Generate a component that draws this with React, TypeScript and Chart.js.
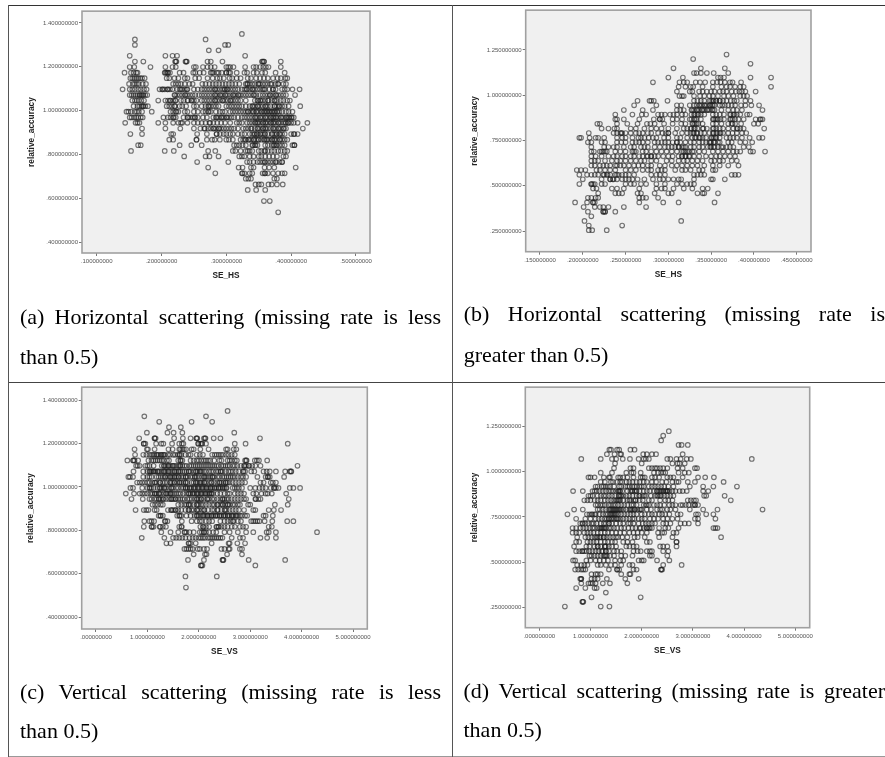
import React, { useEffect, useRef } from "react";
import { Chart, registerables } from "chart.js";

Chart.register(...registerables);

const levelsLess = [1.35,1.325,1.3,1.275,1.25,1.224,1.199,1.173,1.148,1.122,1.097,1.071,1.046,1.02,.995,.969,.944,.918,.893,.867,.842,.816,.791,.765,.74,.714,.689,.663,.638,.587,.536];
const levelsGreater = [1.224,1.199,1.173,1.148,1.122,1.097,1.071,1.046,1.02,.995,.969,.944,.918,.893,.867,.842,.816,.791,.765,.74,.714,.689,.663,.638,.612,.587,.561,.536,.51,.485,.459,.434,.408,.383,.357,.332,.306,.281,.255];

const rowsA = [
[.324],
[.159,.268],
[.159,.298,.303],
[.273,.288],
[.151,.206,.217,.224,.329],
[.159,.172,.221,.223,.237,.239,.271,.276,.294,.355,.358,.384],
[.151,.158,.183,.206,.217,.222,.25,.253,.264,.271,.276,.282,.3,.303,.306,.311,.329,.342,.346,.352,.357,.361,.365,.384],
[.143,.153,.157,.161,.163,.205,.208,.21,.213,.228,.234,.249,.252,.259,.265,.276,.28,.285,.288,.293,.3,.304,.306,.316,.328,.332,.342,.347,.355,.36,.376,.39],
[.152,.155,.158,.161,.164,.167,.17,.174,.208,.212,.22,.226,.236,.24,.252,.258,.271,.279,.286,.29,.296,.305,.309,.316,.322,.333,.338,.346,.352,.358,.364,.372,.379,.384,.391,.394],
[.15,.156,.159,.162,.165,.171,.176,.218,.222,.226,.23,.236,.243,.248,.263,.268,.274,.279,.284,.289,.294,.299,.304,.309,.314,.32,.33,.333,.336,.34,.344,.349,.352,.356,.36,.364,.368,.376,.38,.388,.392],
[.14,.151,.155,.159,.164,.168,.173,.177,.197,.201,.205,.209,.213,.217,.224,.228,.232,.236,.24,.25,.256,.262,.266,.27,.274,.278,.282,.286,.29,.294,.298,.302,.306,.31,.314,.318,.324,.328,.332,.336,.34,.344,.348,.352,.356,.36,.366,.372,.376,.386,.39,.394,.402,.413],
[.151,.154,.157,.16,.163,.166,.169,.172,.175,.178,.22,.224,.228,.232,.236,.24,.244,.248,.252,.258,.262,.266,.27,.274,.278,.282,.286,.29,.294,.298,.302,.306,.31,.314,.318,.322,.326,.33,.334,.338,.342,.346,.352,.356,.36,.364,.368,.372,.376,.38,.384,.388,.392,.406],
[.155,.159,.162,.165,.169,.173,.195,.206,.21,.214,.218,.222,.23,.234,.24,.246,.25,.254,.262,.266,.27,.274,.278,.282,.286,.29,.294,.298,.302,.306,.31,.314,.318,.322,.33,.344,.348,.352,.356,.36,.364,.37,.374,.378,.384,.388,.394,.398],
[.157,.163,.166,.169,.172,.175,.179,.208,.212,.216,.22,.228,.232,.238,.25,.254,.262,.268,.272,.276,.28,.284,.288,.3,.304,.308,.312,.316,.32,.324,.33,.336,.34,.344,.348,.352,.356,.36,.364,.368,.374,.378,.382,.386,.39,.396,.414],
[.146,.149,.153,.159,.162,.165,.17,.185,.214,.218,.222,.226,.236,.24,.25,.256,.264,.268,.272,.276,.284,.29,.294,.298,.306,.31,.314,.318,.322,.326,.33,.334,.338,.342,.346,.35,.354,.358,.362,.366,.37,.374,.378,.382,.386,.392,.396,.402],
[.151,.154,.158,.161,.164,.168,.171,.203,.21,.214,.218,.222,.234,.24,.244,.248,.252,.256,.264,.27,.28,.284,.288,.292,.296,.3,.304,.308,.312,.318,.324,.328,.332,.336,.34,.344,.348,.352,.356,.36,.364,.368,.372,.376,.38,.384,.388,.392,.396,.4,.404],
[.144,.16,.163,.166,.195,.206,.218,.226,.232,.24,.25,.256,.262,.268,.274,.28,.286,.292,.298,.306,.316,.32,.324,.332,.336,.34,.344,.348,.352,.356,.36,.364,.368,.372,.376,.38,.384,.388,.392,.396,.4,.404,.41,.425],
[.17,.206,.229,.25,.26,.266,.272,.276,.28,.284,.288,.292,.296,.3,.304,.308,.312,.318,.326,.33,.334,.338,.344,.348,.352,.356,.36,.364,.368,.372,.376,.38,.384,.388,.392,.418],
[.152,.17,.215,.218,.27,.285,.29,.296,.3,.306,.31,.318,.324,.328,.336,.34,.344,.348,.352,.356,.36,.364,.37,.374,.378,.382,.386,.39,.4,.404,.41],
[.212,.218,.254,.27,.278,.282,.29,.3,.304,.31,.322,.326,.33,.334,.338,.342,.346,.35,.354,.358,.362,.366,.37,.374,.378,.382,.386,.39,.394],
[.164,.168,.228,.246,.262,.312,.316,.32,.325,.33,.34,.344,.348,.36,.364,.37,.374,.378,.382,.386,.39,.402,.405],
[.153,.205,.219,.272,.283,.31,.314,.322,.33,.336,.34,.35,.354,.36,.364,.37,.374,.38,.384,.39,.394],
[.235,.268,.274,.288,.32,.324,.328,.336,.342,.35,.354,.36,.366,.372,.378,.388,.392],
[.255,.303,.332,.336,.342,.348,.352,.356,.36,.364,.368,.372,.376,.382,.386],
[.272,.319,.325,.338,.342,.359,.366,.374,.407],
[.283,.324,.328,.336,.34,.356,.36,.364,.372,.38,.386,.39],
[.33,.334,.338,.374,.378],
[.345,.35,.354,.365,.37,.378,.387],
[.333,.346,.36],
[.358,.367],
[.38],
];

const rowsB = [
[.368],
[.329],
[.396],
[.306,.338,.366],
[.33,.333,.338,.345,.353,.37],
[.3,.317,.358,.361,.365,.396,.42],
[.282,.313,.318,.322,.332,.337,.343,.352,.357,.361,.366,.372,.375,.385],
[.312,.32,.326,.329,.34,.352,.362,.368,.372,.378,.384,.388,.42],
[.31,.325,.328,.336,.34,.345,.35,.354,.36,.364,.368,.374,.379,.383,.386,.39,.402],
[.313,.316,.318,.33,.337,.342,.348,.352,.358,.365,.37,.376,.384,.388,.392],
[.264,.278,.28,.283,.299,.33,.334,.338,.342,.348,.35,.353,.356,.36,.364,.368,.373,.377,.38,.39,.396],
[.26,.286,.31,.315,.325,.33,.333,.336,.339,.342,.345,.348,.351,.354,.36,.363,.366,.37,.374,.378,.385,.39,.397,.406],
[.248,.27,.282,.31,.314,.318,.327,.33,.333,.336,.339,.342,.345,.348,.351,.354,.362,.37,.376,.38,.386,.41],
[.258,.269,.274,.288,.292,.296,.302,.306,.31,.316,.32,.33,.334,.338,.342,.352,.356,.36,.365,.372,.376,.38,.384,.392,.395],
[.238,.24,.248,.266,.283,.29,.293,.305,.31,.316,.325,.33,.333,.338,.352,.355,.358,.361,.365,.372,.375,.378,.382,.388,.402,.407,.41],
[.217,.22,.24,.252,.264,.275,.279,.284,.295,.305,.315,.32,.328,.331,.335,.34,.352,.356,.362,.37,.374,.378,.385,.4,.405],
[.222,.23,.237,.24,.256,.262,.272,.28,.286,.292,.3,.31,.318,.322,.326,.33,.334,.34,.345,.352,.356,.36,.364,.37,.376,.38,.384,.388,.412],
[.207,.236,.24,.244,.25,.256,.262,.266,.27,.276,.28,.288,.293,.297,.3,.308,.316,.322,.326,.33,.334,.338,.342,.348,.352,.356,.36,.364,.37,.375,.38,.386,.391],
[.196,.198,.208,.215,.218,.225,.24,.246,.25,.258,.265,.268,.272,.277,.282,.286,.295,.3,.31,.314,.322,.328,.332,.336,.34,.344,.35,.353,.356,.36,.368,.372,.376,.38,.386,.395,.406,.41],
[.206,.21,.222,.226,.24,.245,.25,.258,.262,.266,.27,.276,.284,.288,.292,.296,.3,.305,.31,.314,.32,.326,.33,.336,.34,.344,.348,.35,.354,.36,.37,.374,.384,.39,.398],
[.21,.225,.23,.236,.24,.248,.256,.26,.268,.272,.276,.284,.29,.296,.3,.304,.308,.312,.316,.32,.326,.33,.336,.34,.346,.35,.354,.358,.364,.368,.372,.376,.388,.394],
[.21,.213,.22,.224,.228,.238,.244,.25,.258,.262,.27,.274,.28,.286,.292,.298,.304,.31,.316,.32,.324,.328,.336,.342,.352,.358,.364,.37,.376,.38,.384,.396,.399,.413],
[.21,.215,.222,.23,.236,.24,.246,.25,.256,.26,.266,.27,.275,.28,.284,.288,.294,.3,.305,.312,.316,.32,.324,.33,.336,.344,.35,.356,.36,.366,.372,.378],
[.21,.214,.218,.226,.234,.24,.244,.25,.256,.262,.268,.272,.28,.286,.298,.304,.312,.318,.322,.328,.334,.34,.35,.354,.36,.364,.374,.38],
[.21,.214,.22,.224,.232,.238,.244,.248,.254,.26,.265,.27,.276,.28,.29,.296,.304,.31,.316,.322,.328,.334,.342,.36,.37,.382],
[.193,.198,.203,.216,.22,.226,.232,.238,.25,.256,.262,.27,.276,.28,.288,.292,.296,.308,.316,.32,.326,.336,.34,.352,.355],
[.196,.205,.21,.214,.218,.224,.228,.232,.238,.242,.246,.25,.254,.26,.28,.286,.29,.296,.33,.334,.338,.342,.374,.378,.382],
[.2,.222,.232,.235,.24,.246,.254,.258,.264,.272,.282,.29,.294,.3,.306,.312,.315,.33,.35,.366],
[.196,.21,.214,.222,.226,.25,.256,.26,.268,.274,.286,.296,.31,.316,.322,.326,.33],
[.212,.216,.234,.24,.248,.266,.286,.292,.296,.306,.318,.328,.34,.346],
[.218,.238,.242,.246,.264,.268,.284,.3,.304,.334,.34,.342,.358],
[.206,.21,.215,.218,.266,.27,.274,.288],
[.191,.205,.212,.214,.266,.294,.312,.354],
[.201,.214,.22,.224,.23,.248,.274],
[.206,.224,.226,.238],
[.21],
[.202,.315],
[.207,.246],
[.207,.211,.228],
];

const rowsC = [
[2.56],
[.94,2.14],
[1.23,1.86,2.26],
[1.42,1.65],
[.99,1.39,1.51,1.68,2.69],
[.84,1.14,1.16,1.52,1.69,1.84,1.95,1.97,2.1,2.13,2.29,2.42,3.19],
[.93,.96,1.17,1.27,1.31,1.48,1.62,1.67,1.7,1.99,2.03,2.06,2.14,2.7,2.91,3.73],
[.75,.99,1.01,1.14,1.41,1.49,1.62,1.64,1.68,1.71,1.75,1.86,1.9,2.03,2.19,2.53,2.56,2.68,2.73],
[.76,.92,.98,1.04,1.08,1.11,1.14,1.18,1.22,1.26,1.3,1.34,1.4,1.44,1.5,1.54,1.59,1.62,1.66,1.74,1.8,1.84,1.96,2.02,2.08,2.26,2.31,2.35,2.39,2.43,2.47,2.53,2.58,2.64,2.7],
[.61,.72,.75,.82,1.02,1.08,1.12,1.16,1.2,1.24,1.28,1.32,1.38,1.42,1.6,1.64,1.68,1.84,1.9,1.96,2,2.05,2.1,2.14,2.18,2.22,2.3,2.4,2.44,2.56,2.6,2.64,2.7,2.74,2.9,2.93,3.09,3.13,3.17,3.33],
[.78,.81,.85,.96,1,1.04,1.12,1.28,1.32,1.36,1.4,1.44,1.48,1.52,1.56,1.6,1.64,1.68,1.72,1.76,1.82,1.86,1.9,1.94,1.98,2.02,2.06,2.1,2.14,2.18,2.22,2.26,2.3,2.34,2.38,2.44,2.48,2.52,2.56,2.6,2.66,2.7,2.75,2.82,2.88,2.92,2.98,3.04,3.1,3.2,3.92],
[.73,.92,1,1.04,1.07,1.1,1.13,1.16,1.2,1.24,1.28,1.32,1.36,1.4,1.44,1.48,1.52,1.56,1.6,1.64,1.68,1.72,1.76,1.8,1.84,1.9,1.94,1.98,2.02,2.06,2.1,2.14,2.2,2.24,2.28,2.34,2.38,2.42,2.46,2.52,2.58,2.62,2.66,2.72,2.78,2.86,2.9,3.02,3.08,3.26,3.32,3.38,3.5,3.68,3.77,3.8],
[.63,.66,.72,.92,1,1.04,1.08,1.18,1.22,1.26,1.3,1.34,1.4,1.44,1.48,1.52,1.56,1.6,1.66,1.7,1.74,1.78,1.84,1.88,1.92,1.96,2,2.06,2.1,2.14,2.18,2.22,2.26,2.3,2.36,2.4,2.46,2.5,2.54,2.58,2.62,2.66,2.7,2.76,2.82,2.86,2.92,3.14,3.3,3.34,3.38,3.66],
[.8,.85,.9,.95,1,1.04,1.1,1.14,1.18,1.24,1.3,1.34,1.38,1.44,1.48,1.52,1.58,1.62,1.66,1.7,1.74,1.78,1.86,1.9,1.94,1.98,2.02,2.06,2.1,2.14,2.2,2.24,2.3,2.36,2.4,2.44,2.48,2.52,2.56,2.6,2.66,2.72,2.78,2.84,2.9,3.2,3.26,3.4,3.44,3.5],
[.67,.72,.9,1,1.04,1.08,1.12,1.2,1.24,1.28,1.32,1.36,1.42,1.46,1.5,1.56,1.6,1.66,1.7,1.74,1.78,1.82,1.86,1.9,1.94,1.98,2.02,2.06,2.1,2.14,2.18,2.22,2.26,2.3,2.34,2.38,2.42,2.46,2.5,2.54,2.66,2.7,2.74,2.78,2.84,3,3.1,3.18,3.24,3.3,3.4,3.46,3.5,3.55,3.77,3.84,3.97],
[.58,.74,.85,.9,.95,1,1.06,1.1,1.14,1.18,1.22,1.26,1.32,1.36,1.4,1.44,1.48,1.52,1.56,1.6,1.64,1.7,1.76,1.8,1.84,1.88,1.92,1.96,2,2.04,2.08,2.12,2.16,2.2,2.24,2.28,2.36,2.42,2.5,2.56,2.6,2.7,2.76,2.82,2.88,3.06,3.12,3.22,3.34,3.42,3.7],
[.69,.91,1.04,1.08,1.14,1.18,1.22,1.26,1.3,1.36,1.42,1.46,1.5,1.54,1.6,1.64,1.68,1.72,1.78,1.82,1.86,1.92,1.96,2,2.04,2.1,2.16,2.2,2.26,2.3,2.36,2.42,2.46,2.5,2.54,2.58,2.64,2.7,2.76,2.82,2.88,2.92,3.1,3.16,3.2,3.75],
[1.1,1.15,1.2,1.26,1.3,1.6,1.66,1.72,1.76,1.8,1.84,1.9,1.96,2,2.04,2.08,2.14,2.2,2.26,2.3,2.36,2.42,2.46,2.52,2.56,2.6,2.66,2.7,2.76,2.8,2.96,3,3.48,3.73],
[.77,.93,.98,1.02,1.14,1.18,1.4,1.46,1.5,1.54,1.6,1.66,1.74,1.8,1.86,1.9,1.96,2,2.06,2.1,2.18,2.26,2.3,2.36,2.44,2.5,2.54,2.6,2.66,2.72,2.78,2.88,3.06,3.1,3.36,3.46,3.6],
[1.22,1.26,1.3,1.58,1.62,1.66,1.76,1.84,1.92,1.96,2,2.04,2.08,2.12,2.16,2.2,2.24,2.28,2.32,2.36,2.4,2.44,2.48,2.52,2.56,2.6,2.64,2.68,2.72,2.76,2.8,2.84,2.9,2.94,3.26,3.3,3.44],
[.94,1.04,1.08,1.13,1.34,1.39,1.67,1.86,1.96,2.02,2.06,2.14,2.2,2.26,2.42,2.5,2.56,2.62,2.66,2.76,2.82,3.02,3.06,3.1,3.14,3.18,3.28,3.43,3.72,3.84],
[.93,1.08,1.12,1.24,1.3,1.36,1.62,1.66,2.03,2.08,2.14,2.2,2.34,2.38,2.44,2.5,2.56,2.64,2.7,2.8,2.86,2.92,3.36,3.42],
[1.27,1.45,1.6,1.72,1.76,1.82,1.9,2.02,2.06,2.1,2.14,2.2,2.28,2.34,2.5,2.6,2.76,2.92,3.06,3.32,3.36,3.5,4.3],
[.89,1.33,1.5,1.56,1.62,1.68,1.74,1.82,1.88,1.94,2,2.04,2.08,2.12,2.18,2.22,2.26,2.3,2.34,2.38,2.42,2.46,2.64,2.8,2.86,3.2,3.33,3.5],
[1.37,1.45,1.8,1.84,1.94,2.25,2.58,2.6,2.75,2.9],
[1.72,1.76,1.8,1.84,1.88,1.98,2.02,2.1,2.16,2.44,2.5,2.58,2.6,2.8,2.84],
[1.9,2.12,2.15,2.55,2.84],
[1.79,2.1,2.46,2.48,2.97,3.68],
[2.04,2.07,3.1],
[1.74,2.35],
[1.75],
];

const rowsD = [
[2.53],
[2.42],
[2.38],
[2.72,2.78,2.9],
[1.37,1.4,1.52,1.56,1.78,1.86],
[1.32,1.47,1.58,1.6,2.03,2.1,2.2,2.28,2.8],
[.82,1.2,1.42,1.5,1.63,1.77,1.94,2.04,2.08,2.14,2.5,2.56,2.68,2.76,2.88,2.96,4.15],
[1.48,2,2.6,2.7,2.74,2.84],
[1.46,1.78,1.84,2.14,2.2,2.26,2.3,2.36,2.42,2.5,2.7,2.8,3.04,3.08],
[1.2,1.42,1.7,1.8,1.84,1.98,2.24,2.32,2.38,2.42,2.46,2.72,2.84,2.92],
[.96,1,1.08,1.26,1.36,1.38,1.54,1.58,1.64,1.72,1.84,1.98,2.02,2.06,2.2,2.26,2.34,2.5,2.56,2.62,2.8,3.1,3.24,3.41],
[1.2,1.28,1.4,1.44,1.52,1.58,1.62,1.7,1.76,1.82,1.9,1.96,2.04,2.1,2.2,2.28,2.4,2.48,2.6,2.68,2.72,2.9,3.04,3.6],
[1.1,1.14,1.22,1.26,1.3,1.34,1.38,1.46,1.56,1.6,1.68,1.72,1.76,1.82,1.86,1.9,1.96,2,2.04,2.14,2.2,2.26,2.32,2.38,2.44,2.52,2.62,2.94,3.2,3.4,3.86],
[.66,.85,1.04,1.08,1.12,1.18,1.24,1.3,1.36,1.4,1.44,1.5,1.54,1.58,1.62,1.72,1.78,1.82,1.86,1.9,1.96,2.04,2.1,2.16,2.24,2.3,2.34,2.38,2.42,2.46,2.5,2.54,2.6,2.66,2.74,2.8,2.88,3.2,3.3],
[.96,1,1.04,1.14,1.2,1.26,1.3,1.36,1.42,1.48,1.56,1.6,1.64,1.7,1.76,1.82,1.9,1.96,2.02,2.08,2.18,2.26,2.32,2.36,2.44,2.5,2.56,2.62,3.22,3.26,3.62],
[.88,.94,1,1.08,1.14,1.2,1.28,1.34,1.4,1.46,1.5,1.54,1.58,1.64,1.72,1.76,1.84,1.88,1.96,2.02,2.14,2.2,2.36,2.46,2.52,2.6,2.9,2.96,3.02,3.06,3.74],
[1.1,1.14,1.2,1.24,1.28,1.36,1.4,1.44,1.48,1.54,1.6,1.66,1.72,1.8,1.84,1.9,2.04,2.08,2.14,2.24,2.3,2.36,2.44,2.54,2.6,2.66,2.76,2.8,2.86,2.92,3,3.04,3.1],
[.68,.85,1.14,1.18,1.24,1.3,1.36,1.4,1.44,1.48,1.52,1.56,1.6,1.64,1.7,1.76,1.8,1.86,1.92,1.96,2,2.1,2.18,2.3,2.36,2.4,2.5,2.56,2.66,2.94,3.2,3.48,4.36],
[.55,.93,.98,1.04,1.08,1.18,1.24,1.3,1.34,1.38,1.42,1.46,1.5,1.54,1.6,1.66,1.72,1.78,1.84,1.9,2,2.06,2.14,2.2,2.26,2.34,2.4,2.46,2.54,2.7,2.76,3.06,3.1,3.26,3.4],
[.72,.9,1,1.1,1.16,1.22,1.28,1.32,1.36,1.42,1.46,1.52,1.58,1.64,1.7,1.76,1.82,1.86,1.94,2,2.06,2.16,2.24,2.32,2.42,2.5,2.6,2.7,3.04,3.1,3.44],
[.8,.84,.9,.96,1.02,1.06,1.12,1.2,1.26,1.3,1.36,1.42,1.5,1.58,1.64,1.74,1.78,1.84,1.94,2.02,2.08,2.14,2.2,2.26,2.42,2.48,2.56,2.76,2.84,2.92,3.1],
[.65,.72,.8,.86,.92,.98,1.04,1.08,1.14,1.18,1.22,1.26,1.3,1.36,1.4,1.46,1.52,1.6,1.66,1.74,1.82,1.88,1.96,2.04,2.1,2.16,2.2,2.34,2.46,2.52,2.72,3.4,3.44,3.48],
[.65,.72,.78,.88,.94,1,1.06,1.14,1.2,1.28,1.34,1.42,1.5,1.58,1.66,1.76,1.84,1.92,2,2.1,2.32,2.4,2.44,2.62,2.68],
[.74,.9,.96,1.02,1.08,1.14,1.2,1.26,1.32,1.38,1.44,1.5,1.54,1.62,1.72,1.86,1.92,2.06,2.34,2.6,3.55],
[.72,.78,.94,1,1.06,1.12,1.2,1.28,1.34,1.42,1.48,1.64,1.72,1.82,2.1,2.16,2.68],
[.68,.92,.98,1.08,1.14,1.2,1.28,1.36,1.42,1.5,1.7,1.76,1.84,1.9,2.36,2.42,2.5,2.68],
[.72,.78,.84,.92,.98,1.04,1.1,1.16,1.22,1.3,1.36,1.46,1.52,1.6,1.84,1.92,1.98,2.1,2.16,2.2,2.42,2.52],
[.98,1.02,1.08,1.14,1.2,1.28,1.32,1.38,1.46,1.6,1.68,1.82,2.16,2.2,2.5],
[.66,.7,.92,1,1.1,1.18,1.26,1.34,1.48,1.58,1.64,1.94,2,2.04,2.3,2.54],
[.74,.82,.88,.94,1.14,1.2,1.3,1.4,1.48,1.6,1.76,1.82,2.42,2.78],
[.7,.76,.82,.86,.9,1.36,1.52,1.56,1.84,1.9,2.38,2.4],
[1.02,1.1,1.14,1.2,1.6,1.76,1.78],
[.8,.82,1.02,1.08,1.14,1.32,1.68,1.94],
[.82,.96,1,1.04,1.1,1.24,1.38,1.72],
[.72,.9,1.08,1.12],
[1.3],
[1.02,1.98],
[.84,.86],
[.5,1.2,1.37],
];

type Extra = [number, number[]];

const darkA: Extra[] = [
[1.224,[.222,.238,.356,.358]],[1.173,[.206,.21,.278,.3]],[1.122,[.332,.35,.37,.38]],
[1.097,[.202,.21,.23,.239,.283,.297,.301,.331,.341,.358,.372]],
[1.071,[.167,.171,.221,.237,.283,.291,.299,.311,.319,.343,.367,.377]],
[1.046,[.213,.221,.241,.247,.283,.295,.307,.349,.353,.365,.375]],
[1.02,[.171,.221,.273,.341,.349,.361,.375,.381]],
[.995,[.223,.273,.333,.341,.347,.355,.359,.363,.367,.371,.375,.379]],
[.969,[.219,.241,.251,.285,.293,.301,.345,.353,.361,.369,.373,.377,.385,.393,.397,.401]],
[.944,[.23,.275,.345,.349,.357,.361,.369,.373,.381,.391,.395]],
[.918,[.267,.281,.289,.339,.349,.357,.361,.373,.381,.389]],
[.893,[.255,.285,.343,.347,.353,.359,.371,.377,.383,.405]],
[.867,[.254,.329,.335,.343,.349,.359,.363,.371,.375,.383]],
[.842,[.341,.345,.373,.377,.405]],[.816,[.333,.359]],[.765,[.359,.377,.386]],[.714,[.325,.359]],
];

const darkB: Extra[] = [
[.969,[.352,.356,.36]],[.944,[.337,.343,.349,.352]],[.918,[.328,.334,.34,.346,.352]],
[.893,[.327,.331,.335,.373,.377,.238]],[.867,[.327,.331,.353,.357,.373,.408,.29]],
[.842,[.329,.333,.375]],[.816,[.327,.331,.341,.353,.381]],[.791,[.329,.333,.353,.357,.361,.246,.3,.245]],
[.765,[.331,.337,.351,.355]],[.74,[.349,.353,.31,.358]],[.714,[.312,.318,.349,.353,.362]],
[.689,[.222,.226,.318,.322,.33,.26]],[.663,[.276,.28,.316,.32,.325]],[.612,[.228,.24,.352]],
[.561,[.225,.229,.24]],[.536,[.232,.236,.25,.352]],[.51,[.21,.212]],[.408,[.212]],[.357,[.224,.226]],
];

const darkC: Extra[] = [
[1.224,[1.14,1.96,2.12]],[1.199,[.93,1.99,2.06]],[1.148,[1.19,1.27,1.32,1.63]],[1.122,[.73,1.65,2.92]],
[1.097,[1.33,1.41,1.5,1.63,2.89,2.97]],
[1.071,[1.05,1.12,1.21,1.33,1.41,1.53,1.61,1.81,1.95,2.03,2.43,2.87,3.79]],
[1.046,[1.35,1.45,1.53,1.61,1.75,1.93,2.11,2.27,3.35]],
[1.02,[1.15,1.25,1.45,1.53,1.63,1.75,1.95,2.03,2.11,2.25,2.41,2.53]],
[.995,[1.05,1.25,1.33,1.47,1.75,1.83,1.91,1.99,2.07,2.15,2.23,2.31,2.39,2.47,2.53,3.47]],
[.969,[1.15,1.23,1.37,1.45,1.81,1.89,1.97,2.05,2.13,2.21,2.25,3.3]],
[.944,[1.23,1.31,1.47,1.55,1.97,2.05,2.17,2.47,3.11]],
[.918,[1.81,1.97,2.37,2.47,2.57]],[.893,[1.47,1.55,1.81,1.97,2.11,2.37,2.51]],
[.867,[1.25,1.63,1.97,2.09,2.17,2.25,2.33,2.41,2.49,2.57,2.65,2.73]],
[.842,[1.35,2.68]],[.816,[1.09,1.25,1.67,2.09,2.35,2.39]],[.791,[1.73,2.1]],[.74,[1.81]],[.663,[2.47]],[.638,[2.05]],
];

const darkD: Extra[] = [
[.893,[1.55,1.57,1.81,1.89,2.3,2.36,2.42,2.48,2.5]],[.867,[1.55,1.59,1.95,2.05,2.3,2.38]],
[.842,[1.52,1.56,1.78,1.88]],[.816,[2.1,3.04]],
[.791,[1.38,1.42,1.46,1.5,1.54,1.58,1.78,1.82,1.86,1.98]],[.765,[1.02,1.1,1.4,1.44,1.48]],
[.74,[1.36,1.4,1.5,1.54]],[.714,[.85,1.36]],[.689,[1.2,1.24,1.28,1.98,2.1,2.14]],
[.638,[1.12,1.18,1.26]],[.612,[2.68]],[.587,[1.14,1.28,1.3]],[.561,[.84,.88,1.24,1.3]],
[.536,[1.26,1.3]],[.459,[1.52,2.38]],[.408,[.82]],[.281,[.85]],
];

const xTicksHs1 = [.1,.2,.3,.4,.5];
const xLabelsHs1 = [".100000000",".200000000",".300000000",".400000000",".500000000"];
const xTicksHs2 = [.15,.2,.25,.3,.35,.4,.45];
const xLabelsHs2 = [".150000000",".200000000",".250000000",".300000000",".350000000",".400000000",".450000000"];
const xTicksVs = [0,1,2,3,4,5];
const xLabelsVs = [".000000000","1.000000000","2.000000000","3.000000000","4.000000000","5.000000000"];
const yTicksLess = [.4,.6,.8,1,1.2,1.4];
const yLabelsLess = [".400000000",".600000000",".800000000","1.000000000","1.200000000","1.400000000"];
const yTicksGreater = [.25,.5,.75,1,1.25];
const yLabelsGreater = [".250000000",".500000000",".750000000","1.000000000","1.250000000"];

type PanelCfg = {
  levels: number[]; rows: number[][]; dark: Extra[]; xTitle: string;
  xTicks: number[]; xLabels: string[]; yTicks: number[]; yLabels: string[];
  box: [number, number, number, number];
  xRange: [number, number]; yRange: [number, number];
};

const panels: PanelCfg[] = [
  { levels: levelsLess, rows: rowsA, dark: darkA, xTitle: "SE_HS", xTicks: xTicksHs1, xLabels: xLabelsHs1, yTicks: yTicksLess, yLabels: yLabelsLess,
    box: [82, 370, 9, 253], xRange: [.0774, .5216], yRange: [.35, 1.454] },
  { levels: levelsGreater, rows: rowsB, dark: darkB, xTitle: "SE_HS", xTicks: xTicksHs2, xLabels: xLabelsHs2, yTicks: yTicksGreater, yLabels: yLabelsGreater,
    box: [525.7, 811, 8.7, 251.7], xRange: [.1333, .4667], yRange: [.1366, 1.469] },
  { levels: levelsLess, rows: rowsC, dark: darkC, xTitle: "SE_VS", xTicks: xTicksVs, xLabels: xLabelsVs, yTicks: yTicksLess, yLabels: yLabelsLess,
    box: [81.7, 367.3, 385.7, 629], xRange: [-.278, 5.278], yRange: [.345, 1.4596] },
  { levels: levelsGreater, rows: rowsD, dark: darkD, xTitle: "SE_VS", xTicks: xTicksVs, xLabels: xLabelsVs, yTicks: yTicksGreater, yLabels: yLabelsGreater,
    box: [525.3, 809.7, 385.7, 627.7], xRange: [-.273, 5.281], yRange: [.138, 1.4676] },
];

const captions = [
  { left: 20, width: 421, b1: 324, b2: 364, l1: "(a) Horizontal scattering (missing rate is less", l2: "than 0.5)" },
  { left: 463.7, width: 421.3, b1: 321, b2: 362, l1: "(b) Horizontal scattering (missing rate is", l2: "greater than 0.5)" },
  { left: 20, width: 421, b1: 699, b2: 738, l1: "(c) Vertical scattering (missing rate is less", l2: "than 0.5)" },
  { left: 463.5, width: 421.5, b1: 698, b2: 737, l1: "(d) Vertical scattering (missing rate is greater", l2: "than 0.5)" },
];

const plotFrame = {
  id: "plotFrame",
  beforeDraw(c: any) {
    const { ctx, chartArea: a } = c;
    ctx.save();
    ctx.fillStyle = "#f0f0f0";
    ctx.fillRect(a.left, a.top, a.right - a.left, a.bottom - a.top);
    ctx.restore();
  },
  beforeDatasetsDraw(c: any) {
    const { ctx, chartArea: a } = c;
    ctx.save();
    ctx.strokeStyle = "#a0a0a0";
    ctx.lineWidth = 1.6;
    ctx.strokeRect(a.left, a.top, a.right - a.left, a.bottom - a.top);
    ctx.restore();
  },
};

const tickFont = { family: "'Liberation Sans', Arial, sans-serif", size: 6 };
const titleFont = { family: "'Liberation Sans', Arial, sans-serif", size: 8.3, weight: "bold" as const };

function Panel({ cfg }: { cfg: PanelCfg }) {
  const ref = useRef<HTMLCanvasElement>(null);
  const [L, R, T, B] = cfg.box;
  const cL = Math.floor(L) - 70;
  const cT = Math.floor(T) - 3;
  const W = Math.ceil(R) + 22 - cL;
  const H = Math.ceil(B) + 35 - cT;
  useEffect(() => {
    const data = [
      ...cfg.levels.flatMap((y, i) => cfg.rows[i].map((x) => ({ x, y }))),
      ...cfg.dark.flatMap(([y, xs]) => xs.map((x) => ({ x, y }))),
    ];
    const chart = new Chart(ref.current!, {
      type: "scatter",
      data: { datasets: [{ data, showLine: false, pointRadius: 2.3, pointBorderWidth: 1.15,
        pointBorderColor: "rgba(28,28,28,0.6)", pointBackgroundColor: "rgba(0,0,0,0)" }] },
      options: {
        animation: false, responsive: false,
        layout: { padding: { left: 0, top: T - cT, right: cL + W - R, bottom: 0 } },
        plugins: { legend: { display: false }, tooltip: { enabled: false } },
        scales: {
          x: {
            type: "linear", min: cfg.xRange[0], max: cfg.xRange[1],
            afterFit: (s: any) => { s.height = cT + H - B; },
            afterBuildTicks: (s: any) => { s.ticks = cfg.xTicks.map((value) => ({ value })); },
            ticks: { autoSkip: false, maxRotation: 0, padding: 2, color: "#555", font: tickFont,
              callback: (_v: any, i: number) => cfg.xLabels[i] },
            grid: { drawOnChartArea: false, drawTicks: true, tickLength: 3, color: "#777" },
            border: { display: false },
            title: { display: true, text: cfg.xTitle, color: "#222", font: titleFont, padding: { top: 0, bottom: 7 } },
          },
          y: {
            type: "linear", min: cfg.yRange[0], max: cfg.yRange[1],
            afterFit: (s: any) => { s.width = L - cL; },
            afterBuildTicks: (s: any) => { s.ticks = cfg.yTicks.map((value) => ({ value })); },
            ticks: { autoSkip: false, padding: 1, color: "#555", font: tickFont,
              callback: (_v: any, i: number) => cfg.yLabels[i] },
            grid: { drawOnChartArea: false, drawTicks: true, tickLength: 3, color: "#777" },
            border: { display: false },
            title: { display: true, text: "relative_accuracy", color: "#222", font: titleFont, padding: { top: 15, bottom: 0 } },
          },
        },
      },
      plugins: [plotFrame],
    } as any);
    return () => chart.destroy();
  }, []);
  return (
    <canvas ref={ref} width={W} height={H}
      style={{ position: "absolute", left: cL, top: cT, width: W, height: H, filter: "blur(0.6px)" }} />
  );
}

function line(key: string, left: number, top: number, width: number, height: number, color: string) {
  return <div key={key} style={{ position: "absolute", left, top, width, height, background: color }} />;
}

const capFont = "'Liberation Serif', 'Times New Roman', serif";

export default function App() {
  return (
    <div style={{ position: "absolute", left: 0, top: 0, width: 885, height: 757, overflow: "hidden", background: "#fff" }}>
      {panels.map((p, i) => <Panel key={i} cfg={p} />)}
      {captions.map((c, i) => (
        <React.Fragment key={i}>
          <div style={{ position: "absolute", left: c.left, top: c.b1 - 19.4, width: c.width, fontFamily: capFont, fontSize: 22, lineHeight: "24px", color: "#000", textAlign: "justify", textAlignLast: "justify", whiteSpace: "nowrap", filter: "blur(0.3px)" }}>{c.l1}</div>
          <div style={{ position: "absolute", left: c.left, top: c.b2 - 19.4, fontFamily: capFont, fontSize: 22, lineHeight: "24px", color: "#000", whiteSpace: "nowrap", filter: "blur(0.3px)" }}>{c.l2}</div>
        </React.Fragment>
      ))}
      {line("top", 8, 5, 877, 1.4, "#333")}
      {line("mid", 8, 382, 877, 1.4, "#444")}
      {line("bottom", 8, 756, 877, 1, "#999")}
      {line("left", 8, 5, 1.4, 752, "#555")}
      {line("center", 452, 5, 1.4, 752, "#555")}
    </div>
  );
}
